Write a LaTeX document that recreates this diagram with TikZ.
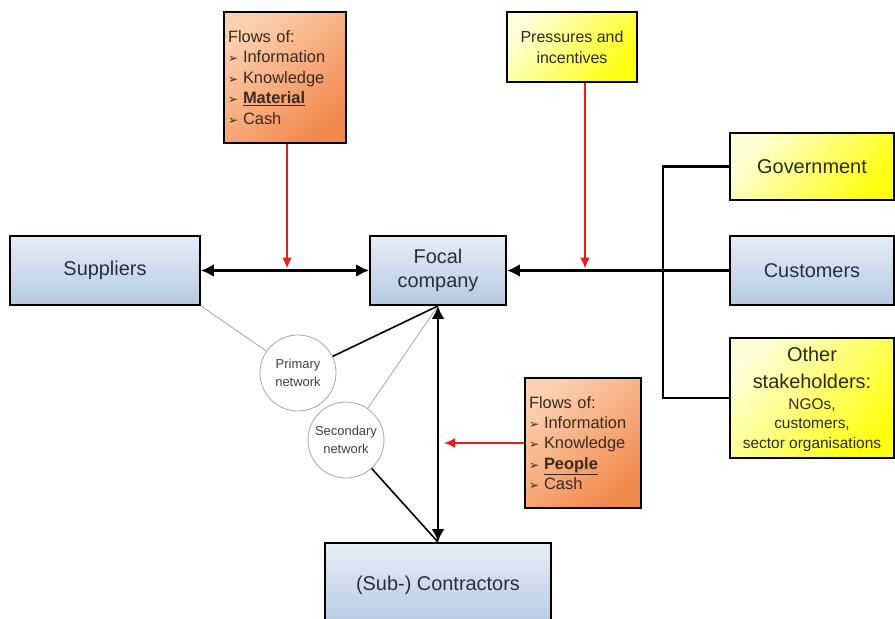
\documentclass[tikz,border=0pt]{standalone}
\usepackage{fontspec}
\setmainfont{Liberation Sans}
\newfontfamily\dingfont{DejaVu Sans}
\usetikzlibrary{arrows.meta}
\usetikzlibrary{positioning}
\definecolor{bluelight}{HTML}{E6EDF6}
\definecolor{bluedark}{HTML}{B6C9E2}
\definecolor{orangelight}{HTML}{FBD0B0}
\definecolor{orangedark}{HTML}{F2894C}
\definecolor{yellowlight}{HTML}{FFFFD8}
\definecolor{yellowdark}{HTML}{FFFF10}
\definecolor{bluetext}{HTML}{25303F}
\definecolor{browntext}{HTML}{3A2A20}
\definecolor{olivetext}{HTML}{2C2C10}
\definecolor{flowred}{HTML}{E41E1A}
\newcommand{\bul}{{\dingfont\fontsize{12}{12}\selectfont ➢}\hspace{5bp}}
\tikzset{bluebox/.style = {draw, line width=1.8bp, top color=bluelight, bottom color=bluedark,
                           text=bluetext, font=\fontsize{20}{24}\selectfont, align=center, inner sep=0}}
\tikzset{yellowbox/.style = {draw, line width=1.8bp, top color=yellowlight, bottom color=yellowdark,
                             shading angle=50, text=olivetext, align=center, inner sep=0}}
\tikzset{flowbox/.style = {draw, line width=1.8bp, top color=orangelight, bottom color=orangedark,
                           shading angle=40, text=browntext, align=left, inner xsep=4bp,
                           font=\fontsize{16.5}{20.5}\selectfont}}
\tikzset{netcircle/.style = {draw=gray!70, line width=0.8bp, circle, fill=white, minimum size=76bp,
                             inner sep=0, text=darkgray, align=center, font=\fontsize{13}{18}\selectfont}}
\tikzset{mainline/.style = {line width=2.6bp, >={Latex[length=13bp,width=13bp]}}}
\tikzset{flowarrow/.style = {draw=flowred, line width=2bp, -{Latex[length=11bp,width=10bp]}}}
\tikzset{thinline/.style = {draw=gray!70, line width=0.8bp}}

\begin{document}
\begin{tikzpicture}[x=1bp, y=-1bp]
      \useasboundingbox (0, 0) rectangle (895, 619);
      \node [bluebox, minimum width=190bp, minimum height=69bp] (sup) at (105, 270.5) {Suppliers};
      \node [bluebox, minimum width=136bp, minimum height=69bp] (focal) at (438, 270.5) {Focal\\company};
      \node [bluebox, minimum width=164bp, minimum height=69bp] (cust) at (812, 270.5) {Customers};
      \node [bluebox, minimum width=226bp, minimum height=84bp] (sub) at (438, 585) {(Sub-) Contractors};
      \node [yellowbox, minimum width=164bp, minimum height=67bp, font=\fontsize{20}{24}\selectfont]
            (gov) at (812, 166.5) {Government};
      \node [yellowbox, minimum width=164bp, minimum height=120bp] (other) at (812, 398) {};
      \node [text=olivetext, align=center, inner sep=0, font=\fontsize{20}{27}\selectfont]
            (otherhead) at ([yshift=30.5bp]other.center) {Other\\stakeholders:};
      \node [text=olivetext, align=center, inner sep=0, font=\fontsize{15.5}{19.5}\selectfont]
            (othertail) at ([yshift=-27bp]other.center) {NGOs,\\customers,\\sector organisations};
      \node [yellowbox, minimum width=130bp, minimum height=70bp, font=\fontsize{16}{21}\selectfont]
            (pres) at (572, 47) {Pressures and\\incentives};
      \node [flowbox, text width=114bp, minimum height=131bp] (flowsA) at (285, 77.5)
            {Flows of:\\\bul Information\\\bul Knowledge\\\bul\textbf{\underline{Material}}\\\bul Cash};
      \node [flowbox, text width=108bp, minimum height=130bp] (flowsB) at (583, 443)
            {Flows of:\\\bul Information\\\bul Knowledge\\\bul\textbf{\underline{People}}\\\bul Cash};
      \node [netcircle] (prim) at (298, 373) {Primary\\network};
      \node [netcircle] (sec) at (346, 440) {Secondary\\network};
      \coordinate (hub) at (663, 270.5);

      \draw [mainline, <->] (sup) -- (focal);
      \draw [mainline, ->] (cust) -- (focal);
      \draw [mainline] (gov) -| (hub) |- (other);
      \draw [mainline, <->] (focal) -- (sub);
      \draw [flowarrow, shorten >=2bp] ([xshift=2bp]flowsA.south) -- ([xshift=2bp]flowsA.south |- sup.east);
      \draw [flowarrow, shorten >=2bp] ([xshift=13bp]pres.south) -- ([xshift=13bp]pres.south |- cust.west);
      \draw [flowarrow] (flowsB) -- ([xshift=6bp]focal.south |- flowsB.west);
      \draw [thinline] (sup.south east) -- (prim);
      \draw [thinline] (sec) -- (focal.south);
      \draw [line width=1.6bp] (prim) -- (focal.south);
      \draw [line width=1.6bp] (sec) -- (sub.north);
    \end{tikzpicture}
\end{document}
